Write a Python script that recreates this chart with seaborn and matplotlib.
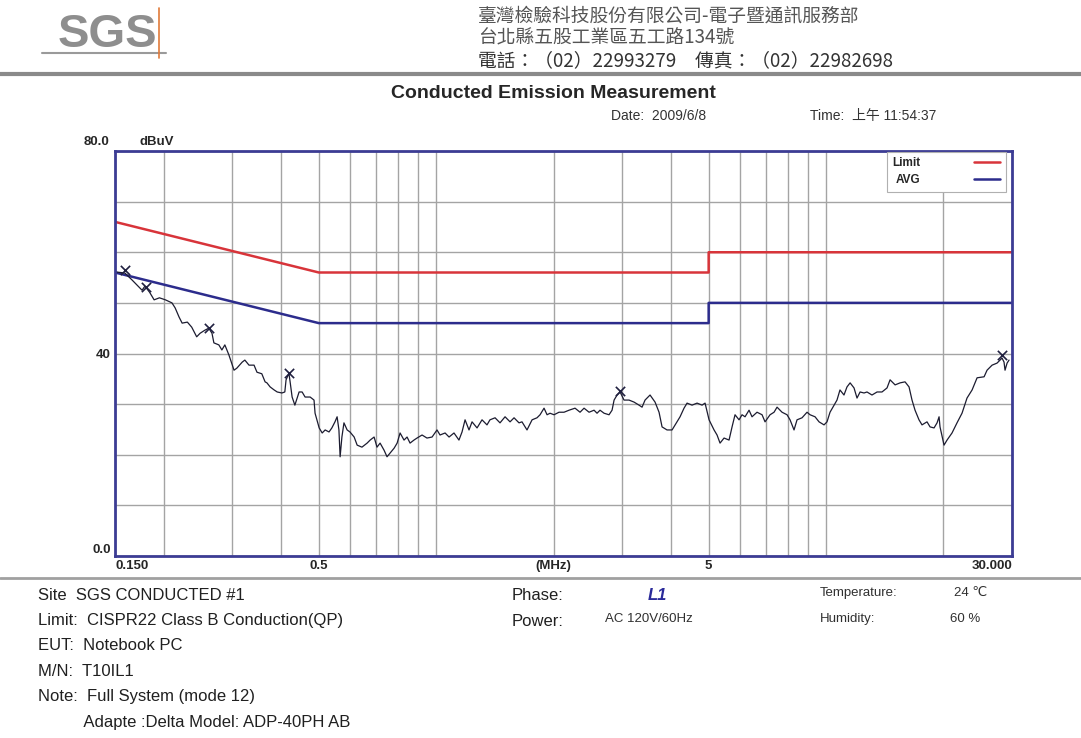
import numpy as np
import pandas as pd
import seaborn as sns
import matplotlib.pyplot as plt
from matplotlib.lines import Line2D

# CISPR22 class B limits (QP and average)
limit_freq = [0.15, 0.5, 5.0, 5.0, 30.0]
limit_qp = [66, 56, 56, 60, 60]
limit_avg = [56, 46, 46, 50, 50]

# sweep trace (MHz, dBuV)
trace_freq = [
    0.151, 0.159, 0.166, 0.171, 0.176, 0.179, 0.184, 0.189, 0.195, 0.202,
    0.210, 0.214, 0.219, 0.223, 0.230, 0.236, 0.243, 0.248, 0.255, 0.261,
    0.266, 0.269, 0.277, 0.282, 0.287, 0.294, 0.303, 0.308, 0.318, 0.323,
    0.331, 0.341, 0.347, 0.357, 0.364, 0.368, 0.375, 0.384, 0.391, 0.402,
    0.409, 0.412, 0.419, 0.422, 0.427, 0.434, 0.445, 0.453, 0.461, 0.475,
    0.486, 0.489, 0.501, 0.510, 0.519, 0.531, 0.540, 0.550, 0.557, 0.563,
    0.567, 0.573, 0.580, 0.591, 0.601, 0.616, 0.627, 0.645, 0.665, 0.677,
    0.693, 0.705, 0.718, 0.735, 0.748, 0.761, 0.780, 0.794, 0.808, 0.827,
    0.842, 0.857, 0.877, 0.893, 0.920, 0.947, 0.976, 1.005, 1.023, 1.054,
    1.079, 1.111, 1.144, 1.165, 1.186, 1.214, 1.236, 1.273, 1.311, 1.350,
    1.374, 1.416, 1.458, 1.502, 1.547, 1.584, 1.631, 1.660, 1.710, 1.762,
    1.814, 1.847, 1.891, 1.925, 1.959, 2.006, 2.066, 2.128, 2.192, 2.271,
    2.339, 2.395, 2.467, 2.541, 2.586, 2.632, 2.696, 2.776, 2.826, 2.860,
    2.911, 2.963, 3.033, 3.124, 3.218, 3.314, 3.374, 3.434, 3.537, 3.643,
    3.730, 3.797, 3.910, 4.028, 4.148, 4.223, 4.323, 4.401, 4.533, 4.669,
    4.809, 4.895, 5.012, 5.162, 5.254, 5.348, 5.476, 5.640, 5.741, 5.843,
    5.983, 6.090, 6.199, 6.347, 6.460, 6.654, 6.854, 6.976, 7.186, 7.357,
    7.489, 7.713, 7.944, 8.086, 8.279, 8.427, 8.680, 8.940, 9.100, 9.373,
    9.597, 9.884, 10.06, 10.24, 10.49, 10.67, 10.86, 11.12, 11.32, 11.53,
    11.80, 12.01, 12.23, 12.52, 12.74, 13.12, 13.52, 13.92, 14.34, 14.60,
    15.04, 15.49, 15.95, 16.33, 16.62, 16.92, 17.32, 17.63, 18.16, 18.49,
    18.93, 19.27, 19.50, 19.61, 20.08, 20.44, 21.05, 21.68, 22.33, 23.00,
    23.70, 24.41, 25.44, 25.89, 26.67, 27.46, 28.29, 28.62, 28.79, 29.14,
    29.48,
]
trace_level = [
    56.1, 55.9, 54.5, 53.5, 52.5, 53.3, 52.1, 50.6, 51.0, 50.6,
    50.0, 49.0, 47.2, 46.0, 46.2, 45.2, 43.3, 44.0, 44.6, 45.0,
    44.0, 42.1, 41.7, 40.7, 41.7, 39.7, 36.7, 37.1, 38.3, 38.7,
    37.7, 37.7, 36.3, 36.0, 34.4, 34.2, 33.4, 32.8, 32.4, 32.2,
    32.4, 34.8, 36.1, 34.4, 31.4, 29.8, 32.4, 32.4, 31.4, 31.4,
    30.8, 28.2, 25.3, 24.3, 24.9, 24.5, 25.3, 26.5, 27.5, 24.9,
    19.6, 23.5, 26.3, 24.9, 24.5, 23.5, 21.9, 21.5, 22.3, 22.9,
    23.5, 21.5, 22.3, 20.9, 19.6, 20.3, 21.3, 22.3, 24.3, 22.9,
    23.5, 22.3, 22.9, 23.3, 23.9, 23.3, 23.5, 24.9, 23.9, 24.3,
    23.5, 24.3, 22.9, 24.5, 26.9, 24.9, 26.5, 25.3, 26.9, 25.9,
    26.9, 27.3, 26.3, 27.5, 26.5, 27.3, 26.3, 26.5, 24.9, 26.9,
    27.3, 27.9, 29.2, 27.9, 28.2, 27.9, 28.4, 28.4, 28.8, 29.2,
    28.4, 29.2, 28.4, 28.8, 28.2, 28.8, 28.2, 27.9, 28.8, 30.8,
    31.8, 32.4, 30.8, 30.8, 30.4, 29.8, 29.4, 30.8, 31.8, 30.4,
    28.4, 25.5, 24.9, 24.9, 26.5, 27.5, 29.2, 30.2, 29.8, 30.2,
    29.8, 30.2, 26.9, 24.9, 23.9, 22.3, 23.3, 22.9, 25.5, 27.9,
    26.9, 27.9, 27.5, 28.8, 27.5, 28.4, 27.9, 26.5, 27.9, 28.4,
    29.4, 28.4, 27.9, 26.9, 24.9, 26.9, 27.3, 28.4, 27.9, 27.5,
    26.5, 25.9, 26.5, 28.4, 29.8, 30.8, 32.8, 31.8, 33.4, 34.2,
    33.2, 31.2, 32.4, 32.2, 32.4, 31.8, 32.4, 32.4, 33.2, 34.8,
    33.8, 34.2, 34.4, 33.4, 30.8, 28.8, 26.9, 25.9, 26.5, 25.5,
    25.3, 26.3, 27.5, 25.5, 21.9, 22.9, 24.3, 26.3, 28.2, 31.2,
    32.8, 35.2, 35.4, 36.7, 37.7, 38.1, 39.1, 38.3, 36.7, 38.1,
    38.7,
]

# marked peaks
peak_freq = [0.159, 0.180, 0.261, 0.419, 2.963, 28.29]
peak_level = [56.5, 53.2, 45.0, 36.1, 32.6, 39.7]

x_grid = [0.2, 0.3, 0.4, 0.6, 0.7, 0.8, 0.9, 1, 3, 4, 6, 7, 8, 9, 10, 20]
x_ticks = [0.15, 0.5, 2, 5, 30]
x_labels = ['0.150', '0.5', '(MHz)', '5', '30.000']
y_ticks = list(range(0, 90, 10))
y_labels = ['0.0', '', '', '', '40', '', '', '', '']

W, H = 1081, 738


def px(x, y):
    # pixel position on the page -> figure fraction
    return x / W, 1 - y / H


sns.set_style('white')
plt.rcParams['font.family'] = ['Liberation Sans', 'DejaVu Sans', 'Noto Sans CJK TC']
narrow = ['Liberation Sans Narrow', 'Liberation Sans', 'DejaVu Sans']
cjk = ['Noto Sans CJK TC', 'DejaVu Sans']

fig = plt.figure(figsize=(W / 100, H / 100), dpi=100)
ax = fig.add_axes([115 / W, 1 - 556 / H, (1012 - 115) / W, (556 - 151) / H])

df_lim = pd.DataFrame({'freq': limit_freq, 'qp': limit_qp, 'avg': limit_avg})
df_tr = pd.DataFrame({'freq': trace_freq, 'level': trace_level})

sns.lineplot(data=df_lim, x='freq', y='qp', estimator=None, sort=False,
             color='#d8343a', lw=1.8, label='Limit', ax=ax)
sns.lineplot(data=df_lim, x='freq', y='avg', estimator=None, sort=False,
             color='#2c2c8c', lw=1.8, label='AVG', ax=ax)
sns.lineplot(data=df_tr, x='freq', y='level', estimator=None, sort=False,
             color='#1c1c30', lw=0.9, legend=False, ax=ax)
sns.scatterplot(x=peak_freq, y=peak_level, marker='x', s=45, color='#202040',
                linewidth=1.2, legend=False, ax=ax, zorder=5)

ax.set_xscale('log')
ax.set_xlim(0.15, 30)
ax.set_ylim(0, 80)
ax.set_xticks(x_ticks)
ax.set_xticklabels(x_labels)
ax.set_xticks(x_grid, minor=True)
ax.set_xticklabels([], minor=True)
ax.set_yticks(y_ticks)
ax.set_yticklabels(y_labels)
ax.grid(True, which='both', color='#a4a4a4', lw=1.0)
ax.set_axisbelow(True)
ax.tick_params(which='both', length=0, pad=3)
ax.set_xlabel('')
ax.set_ylabel('')
for lab in ax.get_xticklabels() + ax.get_yticklabels():
    lab.set_family(narrow)
    lab.set_fontweight('bold')
    lab.set_fontsize(9.5)
xl = ax.get_xticklabels()
xl[0].set_ha('left')
xl[-1].set_ha('right')
ax.get_yticklabels()[0].set_va('bottom')
for sp in ax.spines.values():
    sp.set_color('#3c3c94')
    sp.set_linewidth(2)

ax.annotate('80.0', xy=(0, 1), xycoords='axes fraction', xytext=(-4, 2),
            textcoords='offset points', ha='right', va='bottom',
            family=narrow, fontweight='bold', fontsize=9.5)
ax.annotate('dBuV', xy=(0, 1), xycoords='axes fraction', xytext=(18, 2),
            textcoords='offset points', ha='left', va='bottom',
            family=narrow, fontweight='bold', fontsize=9.5)

leg = ax.legend(loc='upper right', bbox_to_anchor=(0.993, 0.998), markerfirst=False,
                frameon=True, fancybox=False, edgecolor='#b0b0b0', framealpha=1,
                prop={'size': 8.5, 'weight': 'bold'}, handlelength=2.2,
                handletextpad=4.6, labelspacing=0.45, borderpad=0.45,
                borderaxespad=0)
leg.get_frame().set_linewidth(0.8)

# header
fig.text(*px(107, 35), 'SGS', ha='center', va='center', family=narrow,
         fontweight='bold', fontsize=34, color='#8e8e8e')
fig.add_artist(Line2D([42 / W, 166 / W], [1 - 53 / H] * 2, color='#9a9a9a', lw=1.5))
fig.add_artist(Line2D([159 / W] * 2, [1 - 8 / H, 1 - 58 / H], color='#e07a3a', lw=1.2))
fig.text(*px(478, 16), '臺灣檢驗科技股份有限公司-電子暨通訊服務部', ha='left', va='center',
         family=cjk, fontsize=13.5, color='#555555')
fig.text(*px(478, 38), '台北縣五股工業區五工路134號', ha='left', va='center',
         family=cjk, fontsize=13.5, color='#555555')
fig.text(*px(478, 61), '電話：（02）22993279　傳真：（02）22982698', ha='left', va='center',
         family=cjk, fontsize=13.5, color='#333333')
fig.add_artist(Line2D([0, 1], [1 - 74 / H] * 2, color='#8a8a8a', lw=3))

fig.text(*px(553, 93), 'Conducted Emission Measurement', ha='center', va='center',
         fontsize=14, fontweight='bold')
fig.text(*px(611, 116), 'Date:  2009/6/8', ha='left', va='center', fontsize=10,
         color='#333333')
fig.text(*px(810, 116), 'Time:  上午 11:54:37', ha='left', va='center', fontsize=10,
         family=['Liberation Sans', 'Noto Sans CJK TC'], color='#333333')

fig.add_artist(Line2D([0, 1], [1 - 578 / H] * 2, color='#a0a0a0', lw=2))

# footer info block
left_lines = ['Site  SGS CONDUCTED #1', 'Limit:  CISPR22 Class B Conduction(QP)',
              'EUT:  Notebook PC', 'M/N:  T10IL1', 'Note:  Full System (mode 12)',
              '          Adapte :Delta Model: ADP-40PH AB']
for i, s in enumerate(left_lines):
    fig.text(*px(38, 595 + i * 25.5), s, ha='left', va='center', fontsize=12,
             color='#202020')
fig.text(*px(512, 595), 'Phase:', ha='left', va='center', fontsize=12, color='#202020')
fig.text(*px(648, 595), 'L1', ha='left', va='center', fontsize=12, color='#2a2a9a',
         fontweight='bold', style='italic')
fig.text(*px(512, 621), 'Power:', ha='left', va='center', fontsize=12, color='#202020')
fig.text(*px(605, 619), 'AC 120V/60Hz', ha='left', va='center', fontsize=9.5, color='#303030')
fig.text(*px(820, 593), 'Temperature:', ha='left', va='center', fontsize=9.5, color='#303030')
fig.text(*px(954, 593), '24 ℃', ha='left', va='center', fontsize=9.5, color='#303030')
fig.text(*px(820, 619), 'Humidity:', ha='left', va='center', fontsize=9.5, color='#303030')
fig.text(*px(950, 619), '60 %', ha='left', va='center', fontsize=9.5, color='#303030')

fig.savefig('out.png', dpi=100)
